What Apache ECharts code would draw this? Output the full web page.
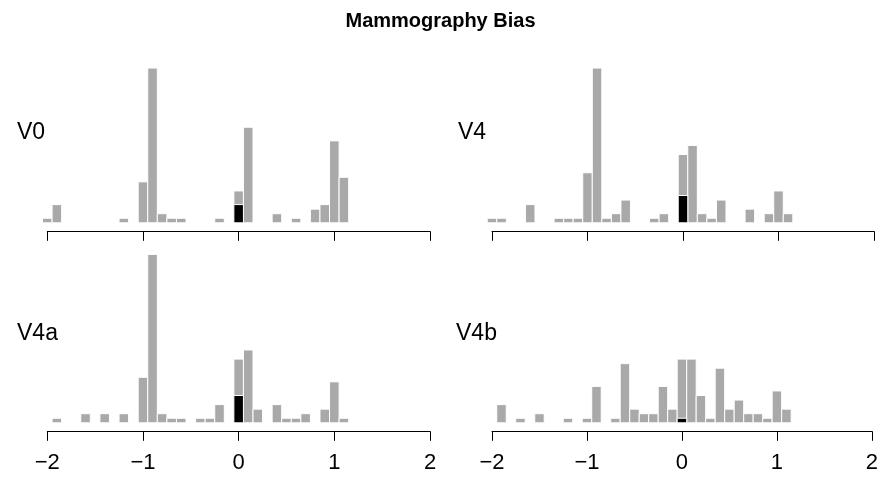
<!DOCTYPE html>
<html>
<head>
<meta charset="utf-8">
<script src="https://cdn.jsdelivr.net/npm/echarts@6/dist/echarts.min.js"></script>
<style>
html,body{margin:0;padding:0;background:#fff;}
#chart{width:881px;height:477px;}
</style>
</head>
<body>
<div id="chart"></div>
<script>
// Bin centres (width 0.1)
var binCenters = [-2.0,-1.9,-1.8,-1.7,-1.6,-1.5,-1.4,-1.3,-1.2,-1.1,-1.0,-0.9,-0.8,-0.7,-0.6,-0.5,-0.4,-0.3,-0.2,-0.1,0.0,0.1,0.2,0.3,0.4,0.5,0.6,0.7,0.8,0.9,1.0,1.1];
// Counts per panel
var countsV0  = [1,4,0,0,0,0,0,0,1,0,9,34,2,1,1,0,0,0,1,0,7,21,0,0,2,0,1,0,3,4,18,10];
var countsV4  = [1,1,0,0,4,0,0,1,1,1,11,34,1,2,5,0,0,1,2,0,15,17,2,1,5,0,0,3,0,2,7,2];
var countsV4a = [0,1,0,0,2,0,2,0,2,0,10,37,2,1,1,0,1,1,4,0,14,16,3,0,4,1,1,2,0,3,9,1];
var countsV4b = [0,4,0,1,0,2,0,0,1,0,1,8,0,1,13,3,2,2,8,3,14,14,6,1,12,3,5,2,2,1,7,3];
// Highlighted (black) counts at bias 0
var zeroBin = 0.0;
var blackV0 = 4, blackV4 = 6, blackV4a = 6, blackV4b = 1;
var panelNames = ['V0','V4','V4a','V4b'];
var xTicks = [-2,-1,0,1,2];

var panels = [countsV0, countsV4, countsV4a, countsV4b];
var blacks = [blackV0, blackV4, blackV4a, blackV4b];

var binW = 0.1;
function renderBar(color) {
  return function (params, api) {
    var x = api.value(0), h = api.value(1);
    var p1 = api.coord([x - binW/2, h]);
    var p2 = api.coord([x + binW/2, 0]);
    return {
      type: 'rect',
      shape: {x: p1[0], y: p1[1], width: p2[0]-p1[0], height: p2[1]-p1[1]},
      style: {fill: color, stroke: '#ffffff', lineWidth: 1}
    };
  };
}

var gridTopRow = 54.4, gridBotRow = 254.4, gridH = 168.4;
var grids = [
  {left: 47.3, width: 382.7, top: gridTopRow, height: gridH},
  {left: 492, width: 382, top: gridTopRow, height: gridH},
  {left: 47.3, width: 382.7, top: gridBotRow, height: gridH},
  {left: 492, width: 382, top: gridBotRow, height: gridH}
];
var xAxes = [], yAxes = [], series = [];
for (var i = 0; i < 4; i++) {
  xAxes.push({
    gridIndex: i, type: 'value', min: -2, max: 2, interval: 1,
    offset: 8.5,
    axisLine: {show: true, onZero: false, lineStyle: {color: '#000', width: 1}},
    axisTick: {show: true, length: 9.5, lineStyle: {color: '#000', width: 1}},
    axisLabel: {show: i >= 2, margin: 21, color: '#000', fontSize: 22,
      fontFamily: 'Liberation Sans, Arial, sans-serif',
      formatter: function (v) { return v < 0 ? '\u2212' + Math.abs(v) : String(v); }},
    splitLine: {show: false}
  });
  yAxes.push({gridIndex: i, type: 'value', min: 0, max: 37, show: false});
  var d = [];
  for (var k = 0; k < binCenters.length; k++) {
    if (panels[i][k] > 0) d.push([binCenters[k], panels[i][k]]);
  }
  series.push({type: 'custom', xAxisIndex: i, yAxisIndex: i, data: d,
    renderItem: renderBar('#A9A9A9'), silent: true});
  series.push({type: 'custom', xAxisIndex: i, yAxisIndex: i, data: [[zeroBin, blacks[i]]],
    renderItem: renderBar('#000000'), silent: true, z: 3});
}

var font = 'Liberation Sans, Arial, sans-serif';
var labelPos = [[17, 121], [458, 121], [17, 322], [456, 322]];
var titles = [{text: 'Mammography Bias', left: 'center', top: 11, padding: 0,
  textStyle: {fontSize: 20, fontWeight: 'bold', color: '#000', fontFamily: font}}];
for (var j = 0; j < 4; j++) {
  titles.push({text: panelNames[j], left: labelPos[j][0], top: labelPos[j][1], padding: 0,
    textStyle: {fontSize: 23, fontWeight: 'normal', color: '#000', fontFamily: font}});
}

var chart = echarts.init(document.getElementById('chart'), null, {renderer: 'canvas'});
chart.setOption({
  animation: false,
  backgroundColor: '#ffffff',
  title: titles,
  grid: grids,
  xAxis: xAxes,
  yAxis: yAxes,
  series: series
});
</script>
</body>
</html>
